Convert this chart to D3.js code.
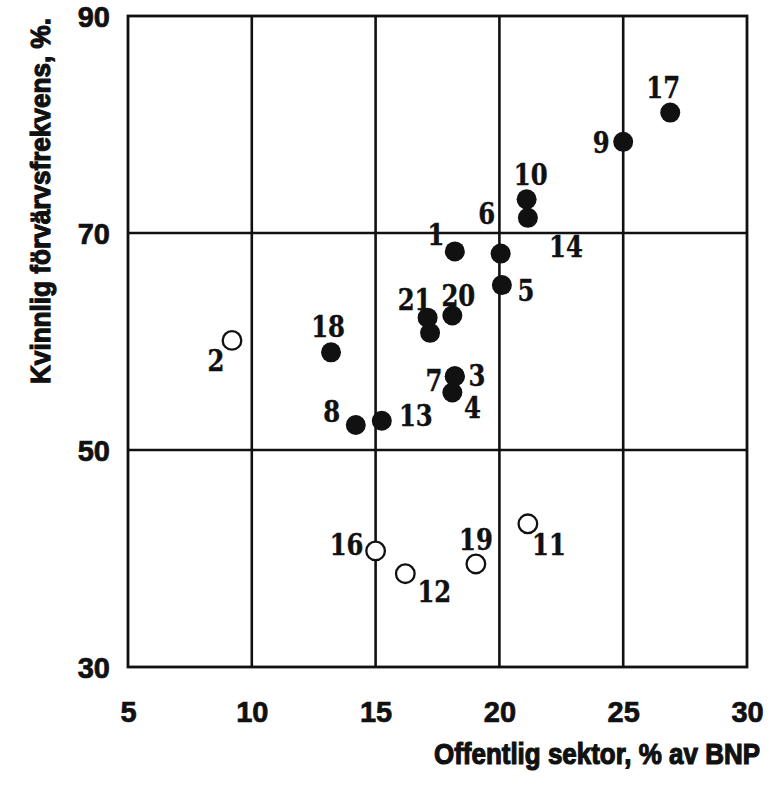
<!DOCTYPE html>
<html><head><meta charset="utf-8">
<script src="https://cdn.jsdelivr.net/npm/d3@7"></script>
<style>
html,body{margin:0;padding:0;background:#fff;}
svg{display:block;}
</style></head>
<body>
<svg id="chart" width="777" height="792"></svg>
<script>
// ---- data ----
const ids    = [1, 2, 3, 4, 5, 6, 7, 8, 9, 10, 11, 12, 13, 14, 15, 16, 17, 18, 19, 20, 21];
const xVals  = [18.2, 9.2, 18.2, 18.1, 20.1, 20.05, 18.2, 14.2, 25.0, 21.1, 21.15, 16.2, 15.25, 21.15, 17.2, 15.0, 26.9, 13.2, 19.05, 18.1, 17.1];
const yVals  = [68.3, 60.1, 56.8, 55.3, 65.2, 68.1, 56.8, 52.3, 78.4, 73.1, 43.2, 38.6, 52.7, 71.4, 60.8, 40.7, 81.1, 59.0, 39.5, 62.4, 62.2];
const marker = ["filled","open","filled","filled","filled","filled","filled","filled","filled","filled","open","open","filled","filled","filled","open","filled","filled","open","filled","filled"];
const shownLabels = [1,2,3,4,5,6,7,8,9,10,11,12,13,14,16,17,18,19,20,21];
const xTicks = [5, 10, 15, 20, 25, 30];
const yTicks = [30, 50, 70, 90];
const xTitle = "Offentlig sektor, % av BNP";
const yTitle = "Kvinnlig förvärvsfrekvens, %.";

// ---- layout (label offsets from point centre, px) ----
const labelOffset = {
  1:[-19,-17], 2:[-16,20], 3:[22,-1], 4:[20,15], 5:[24,5], 6:[-14,-40], 7:[-21,4],
  8:[-24,-14], 9:[-22,0], 10:[4,-25], 11:[21,20], 12:[29,18], 13:[34,-6], 14:[38,28],
  16:[-29,-7], 17:[-7,-25], 18:[-3,-26], 19:[0,-25], 20:[6,-20], 21:[-13,-18]
};

const svg = d3.select("#chart");
const x = d3.scaleLinear().domain([5, 30]).range([128, 747]);
const y = d3.scaleLinear().domain([30, 90]).range([667, 16]);

const sansFont = "'Liberation Sans','Arial',sans-serif";
const serifFont = "'DejaVu Serif Condensed','DejaVu Serif',serif";

// grid lines
const g = svg.append("g");
g.selectAll("line.vx").data(xTicks.slice(1, -1)).join("line")
  .attr("x1", d => x(d)).attr("x2", d => x(d))
  .attr("y1", y(30)).attr("y2", y(90))
  .attr("stroke", "#111").attr("stroke-width", 2.6);
g.selectAll("line.hy").data(yTicks.slice(1, -1)).join("line")
  .attr("y1", d => y(d)).attr("y2", d => y(d))
  .attr("x1", x(5)).attr("x2", x(30))
  .attr("stroke", "#111").attr("stroke-width", 2.6);
// frame
g.append("rect")
  .attr("x", x(5)).attr("y", y(90))
  .attr("width", x(30) - x(5)).attr("height", y(30) - y(90))
  .attr("fill", "none").attr("stroke", "#111").attr("stroke-width", 2.8);

// axes (labels only)
const xAxis = d3.axisBottom(x).tickValues(xTicks).tickSize(0).tickPadding(0).tickFormat(d3.format("d"));
const yAxis = d3.axisLeft(y).tickValues(yTicks).tickSize(0).tickPadding(0).tickFormat(d3.format("d"));

const gx = svg.append("g").attr("transform", `translate(0, ${y(30) + 32})`).call(xAxis);
gx.select(".domain").remove();
gx.selectAll("text").attr("font-family", sansFont).attr("font-weight", "bold")
  .attr("font-size", 29).attr("fill", "#111").attr("stroke", "#111").attr("stroke-width", 0.7)
  .attr("dy", "0.35em").attr("y", 13);

const gy = svg.append("g").attr("transform", `translate(${x(5) - 18}, 0)`).call(yAxis);
gy.select(".domain").remove();
gy.selectAll("text").attr("font-family", sansFont).attr("font-weight", "bold")
  .attr("font-size", 29).attr("fill", "#111").attr("stroke", "#111").attr("stroke-width", 0.7)
  .attr("dy", "0.35em").attr("x", 0);

// axis titles (condensed by horizontal scaling)
function condensed(sel, targetLen) {
  const len = sel.node().getComputedTextLength();
  return targetLen / len;
}
const xt = svg.append("text")
  .attr("font-family", sansFont).attr("font-weight", "bold").attr("font-size", 30)
  .attr("fill", "#111").attr("stroke", "#111").attr("stroke-width", 1.2)
  .attr("dy", "0.35em").text(xTitle);
const sx = condensed(xt, 326);
xt.attr("transform", `translate(434, 753) scale(${sx}, 1)`);

const yt = svg.append("text")
  .attr("font-family", sansFont).attr("font-weight", "bold").attr("font-size", 28)
  .attr("fill", "#111").attr("stroke", "#111").attr("stroke-width", 1.2)
  .attr("dy", "0.35em").text(yTitle);
const sy = condensed(yt, 366);
yt.attr("transform", `translate(40, 384) rotate(-90) scale(${sy}, 1)`);

// points
const pts = ids.map((id, i) => ({id, x: xVals[i], y: yVals[i], m: marker[i]}));
svg.append("g").selectAll("circle").data(pts).join("circle")
  .attr("cx", d => x(d.x)).attr("cy", d => y(d.y))
  .attr("r", d => d.m === "filled" ? 10 : 9.3)
  .attr("fill", d => d.m === "filled" ? "#111" : "#fff")
  .attr("stroke", "#111").attr("stroke-width", d => d.m === "filled" ? 0 : 2.3);

// point labels
svg.append("g").selectAll("text").data(pts.filter(d => shownLabels.includes(d.id))).join("text")
  .attr("transform", d => `translate(${x(d.x) + labelOffset[d.id][0]}, ${y(d.y) + labelOffset[d.id][1]}) scale(0.9, 1)`)
  .attr("dy", "0.36em").attr("text-anchor", "middle")
  .attr("font-family", serifFont).attr("font-weight", "bold").attr("font-size", 30)
  .attr("fill", "#111").attr("stroke", "#111").attr("stroke-width", 0.4)
  .text(d => d.id);
</script>
</body></html>
